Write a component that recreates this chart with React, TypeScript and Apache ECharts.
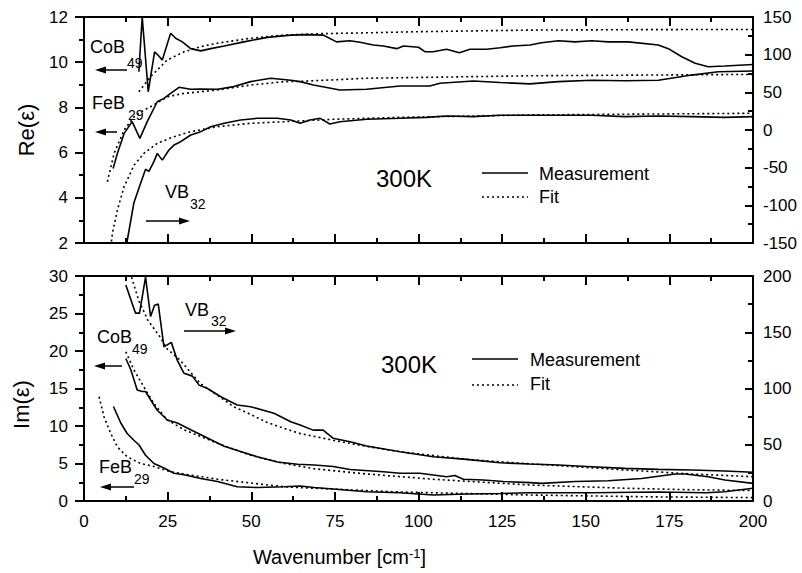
import React, { useEffect, useRef } from 'react';
import * as echarts from 'echarts';

const FONT = '"Liberation Sans", Arial, Helvetica, sans-serif';

// x range (wavenumber, cm-1) [min, max, interval]
const xRange = [0, 200, 25];
// axis ranges [min, max, interval]
const reLeftRange = [2, 12, 2];
const reRightRange = [-150, 150, 50];
const imLeftRange = [0, 30, 5];
const imRightRange = [0, 200, 50];

// ---- Re(eps) panel ----
const reCoB49Meas = [[16.4,9.58],[17.4,12.0],[19.2,8.69],[21.1,10.46],[22.1,10.32],[23.4,10.1],[25.9,11.28],[27.4,11.06],[29.4,10.9],[31.9,10.6],[34.9,10.5],[37.9,10.6],[41.9,10.72],[47.8,10.9],[54.8,11.1],[61.8,11.2],[66.8,11.22],[71.5,11.2],[75.5,10.9],[79.5,10.95],[82.5,10.88],[86.5,10.76],[89.5,10.72],[93.5,10.6],[95.5,10.72],[100,10.66],[102,10.46],[104.4,10.46],[108.4,10.57],[112.2,10.42],[115.4,10.57],[120.4,10.57],[124.4,10.64],[128.3,10.72],[133.3,10.76],[136.8,10.86],[141.8,10.95],[146.8,10.9],[151.8,10.95],[156.7,10.9],[162.7,10.9],[171.7,10.76],[174.7,10.6],[178.7,10.24],[182.7,9.95],[186.6,9.8],[191.6,9.83],[200,9.9]];
const reCoB49Fit = [[16.4,8.69],[19.9,9.36],[24.9,10.1],[29.9,10.46],[34.9,10.69],[39.9,10.84],[49.8,11.06],[59.8,11.2],[70,11.26],[84.5,11.3],[100,11.35],[133.3,11.42],[166,11.44],[200,11.45]];
const reFeB29Meas = [[8.7,5.3],[10,5.97],[12,6.85],[14.4,7.37],[16.7,6.63],[18.9,7.37],[21.9,8.25],[23.9,8.4],[25.9,8.62],[28.4,8.89],[31.9,8.8],[34.9,8.81],[39.9,8.8],[44.8,8.92],[49.8,9.14],[55.8,9.29],[61.8,9.2],[64.6,9.14],[68.6,8.99],[76.5,8.77],[84.5,8.8],[94.5,8.95],[103.4,8.95],[106.4,9.07],[116.4,9.17],[124.4,9.1],[133.3,9.04],[141.8,9.14],[151.8,9.2],[161.7,9.18],[171.7,9.2],[181.7,9.43],[189.6,9.58],[200,9.61]];
const reFeB29Fit = [[7,4.71],[9,5.97],[12,7.0],[15,7.59],[17.9,7.88],[19.9,8.03],[24.9,8.47],[29.9,8.62],[39.9,8.77],[49.8,8.99],[59.8,9.14],[64.6,9.15],[84.5,9.29],[133.3,9.4],[200,9.46]];
const reVB32Meas = [[12.8,-150],[14.9,-97],[16.9,-71],[18.4,-52],[19.4,-55],[20.9,-42],[21.9,-31],[23.4,-40],[25.4,-26.5],[26.9,-20],[28.9,-15.5],[31.9,-6.6],[34.9,-2.2],[37.9,4.4],[41.9,8.9],[46.8,13.3],[51.8,15.5],[57.8,15.5],[61.8,13.3],[64.6,9],[67.6,13.3],[70.6,15.5],[73.5,8],[76.5,11],[84.5,14.2],[94.5,15.5],[102.4,16.8],[108.4,18.6],[116.4,17.7],[124.4,19.5],[133.3,19.5],[141.8,19.5],[151.8,19.5],[161.7,17.7],[171.7,18.6],[181.7,17.7],[191.6,16.8],[200,17.7]];
const reVB32Fit = [[8.2,-148],[8.5,-137],[10,-106],[12,-75],[15,-46.5],[17.9,-31],[21.9,-17.7],[26.9,-8.9],[31.9,-2.2],[39.9,4.4],[49.8,8.9],[59.8,11],[74.5,14.2],[94.5,16.8],[133.3,20],[200,22.2]];

// ---- Im(eps) panel ----
const imVB32Meas = [[12.5,192],[15.4,167],[16.6,167],[18.4,199],[19.9,164],[21.1,174],[22.2,175],[23.9,137],[26.1,141],[27.9,125],[29.9,113.5],[32.4,111],[34.4,103],[36.9,100],[40.9,92.7],[45.8,85.3],[49.8,83.8],[56.8,78],[61.8,70.5],[64.6,67.6],[68.5,63],[71.5,63],[74.5,55.7],[79.5,52.7],[84.5,48.9],[94.5,43.8],[104.4,39.4],[114.4,37],[124.4,34],[133.3,32.9],[141.8,32],[151.8,30.5],[161.7,29],[171.7,28.1],[181.7,27.6],[191.6,26.7],[200,25.5]];
const imVB32Fit = [[14.2,199],[16.4,178],[17.7,170],[19,161],[22.7,146],[24.9,135],[28.7,125.3],[34.7,104.6],[39.9,94],[44.6,84],[49.8,77],[54.6,70],[59.8,64.5],[64.6,60],[74.5,54],[84.5,48.5],[94.5,43.8],[114.4,37],[133.3,33],[161.7,27.6],[181.7,24],[200,21.6]];
const imCoB49Meas = [[12.5,19.0],[14,17.5],[15.9,14.8],[17.4,14.6],[18.4,14.6],[19.9,13.5],[21.9,12.1],[24.9,10.8],[27.9,10.4],[31.9,9.5],[36.9,8.4],[41.9,7.3],[46.8,6.6],[51.8,5.9],[57.8,5.2],[63.8,4.9],[68.8,4.8],[74.5,4.6],[79.5,4.2],[89.5,3.9],[94.5,3.7],[100.4,3.7],[108.4,3.24],[110.9,3.4],[113.4,2.9],[119.4,2.8],[125.4,2.6],[133.3,2.45],[136.8,2.35],[146.8,2.6],[156.7,2.7],[166.7,3.0],[176.7,3.6],[179.7,3.6],[186.6,3.24],[191.6,2.8],[200,2.35]];
const imCoB49Fit = [[12.5,19.9],[14.9,17.5],[17.9,15.2],[20.9,13],[24.9,10.8],[29.9,9.5],[39.9,7.7],[49.8,6.1],[59.8,5.0],[68.8,4.3],[84.5,3.6],[104.4,2.9],[133.3,2.13],[161.7,1.7],[181.7,1.5],[200,1.4]];
const imFeB29Meas = [[8.8,12.6],[11,10.4],[12.9,9.0],[14.9,8.1],[16.4,7.5],[18.4,6.1],[20.9,5.0],[23.9,4.4],[26.9,3.7],[29.9,3.5],[34.9,3.0],[39.9,2.6],[45.8,1.9],[51.8,1.8],[59.8,1.9],[64.6,2.0],[68.8,1.8],[74.5,1.6],[84.5,1.24],[94.5,1.1],[104.4,0.8],[114.4,0.93],[124.4,1.0],[133.3,1.1],[151.8,1.1],[171.7,1.2],[186,1.1],[191.6,1.24],[200,1.7]];
const imFeB29Fit = [[4.5,13.9],[6,11.2],[8,9.0],[10,7.2],[12.9,5.9],[16.9,5.0],[20.9,4.6],[25.9,3.9],[29.9,3.6],[39.9,2.9],[49.8,2.4],[59.8,1.9],[68.8,1.7],[94.5,1.2],[133.3,0.8],[170,0.55],[200,0.45]];

const legendLabels = ['Measurement', 'Fit'];
const panelTitle = '300K';

const BLACK = '#000000';

function meas(name: string, data: number[][], xi: number, yi: number) {
  return {
    type: 'line', name, data, xAxisIndex: xi, yAxisIndex: yi,
    symbol: 'none', silent: true, clip: true, z: 2,
    lineStyle: { color: BLACK, width: 1.6 },
  };
}
function fit(name: string, data: number[][], xi: number, yi: number) {
  return {
    type: 'line', name, data, xAxisIndex: xi, yAxisIndex: yi,
    symbol: 'none', silent: true, clip: true, z: 2,
    lineStyle: { color: BLACK, width: 1.6, type: [2, 3] },
  };
}

function xAx(grid: number, pos: 'top' | 'bottom', labels: boolean, extra: any = {}) {
  return {
    type: 'value', gridIndex: grid, position: pos,
    min: xRange[0], max: xRange[1], interval: xRange[2],
    axisLine: { show: true, onZero: false, lineStyle: { color: BLACK, width: 2 } },
    axisTick: { show: true, inside: true, length: 9, lineStyle: { color: BLACK, width: 2 } },
    minorTick: { show: true, splitNumber: 2, length: 5, lineStyle: { color: BLACK, width: 2 } },
    splitLine: { show: false },
    minorSplitLine: { show: false },
    axisLabel: { show: labels, color: BLACK, fontSize: 17, fontFamily: FONT, margin: 12 },
    ...extra,
  };
}
function yAx(grid: number, pos: 'left' | 'right', r: number[], extra: any = {}) {
  const left = pos === 'left';
  return {
    type: 'value', gridIndex: grid, position: pos,
    min: r[0], max: r[1], interval: r[2],
    axisLine: { show: true, onZero: false, lineStyle: { color: BLACK, width: 2 } },
    axisTick: { show: true, inside: !left, length: left ? 9 : 8, lineStyle: { color: BLACK, width: 2 } },
    minorTick: { show: true, splitNumber: 2, length: 5, lineStyle: { color: BLACK, width: 2 } },
    splitLine: { show: false },
    minorSplitLine: { show: false },
    axisLabel: { show: true, color: BLACK, fontSize: 17, fontFamily: FONT, margin: left ? 16 : 10 },
    ...extra,
  };
}

function txt(text: string, x: number, y: number, size: number, align = 'left') {
  return {
    type: 'text', x, y, silent: true,
    style: { text, fontSize: size, fontFamily: FONT, fill: BLACK, align, verticalAlign: 'middle' },
  };
}
function arrow(x1: number, x2: number, y: number) {
  const d = x2 > x1 ? 1 : -1;
  return [
    { type: 'line', silent: true, shape: { x1, y1: y, x2: x2 - d * 8, y2: y }, style: { stroke: BLACK, lineWidth: 1.5 } },
    { type: 'polygon', silent: true, shape: { points: [[x2, y], [x2 - d * 11, y - 3.5], [x2 - d * 11, y + 3.5]] }, style: { fill: BLACK } },
  ];
}
function legendLine(x1: number, x2: number, y: number, dotted: boolean) {
  return {
    type: 'line', silent: true, shape: { x1, y1: y, x2, y2: y },
    style: { stroke: BLACK, lineWidth: 1.5, lineDash: dotted ? [2, 3] : null },
  };
}

export default function App() {
  const ref = useRef<HTMLDivElement>(null);
  useEffect(() => {
    if (!ref.current) return;
    const chart = echarts.init(ref.current, null, { renderer: 'svg' });
    const option: any = {
      animation: false,
      backgroundColor: '#fff',
      textStyle: { fontFamily: FONT, color: BLACK },
      grid: [
        { left: 84, top: 17, width: 669, height: 226 },
        { left: 84, top: 276, width: 669, height: 225 },
      ],
      xAxis: [
        xAx(0, 'bottom', false),
        xAx(0, 'top', false),
        xAx(1, 'bottom', true, {
          name: '{a|Wavenumber [cm}{s|-1}{a|]}',
          nameLocation: 'middle',
          nameGap: 46,
          nameTextStyle: {
            padding: [0, 158, 0, 0],
            rich: {
              a: { fontSize: 20, fontFamily: FONT, color: BLACK },
              s: { fontSize: 13, fontFamily: FONT, color: BLACK, verticalAlign: 'top' },
            },
          },
        }),
        xAx(1, 'top', false),
      ],
      yAxis: [
        yAx(0, 'left', reLeftRange, {
          name: 'Re(ε)', nameLocation: 'middle', nameGap: 47,
          nameTextStyle: { fontSize: 22, fontFamily: FONT, color: BLACK },
        }),
        yAx(0, 'right', reRightRange),
        yAx(1, 'left', imLeftRange, {
          name: 'Im(ε)', nameLocation: 'middle', nameGap: 52,
          nameTextStyle: { fontSize: 22, fontFamily: FONT, color: BLACK, padding: [0, 32, 0, 0] },
        }),
        yAx(1, 'right', imRightRange),
      ],
      series: [
        meas('CoB49 Re measurement', reCoB49Meas, 0, 0),
        fit('CoB49 Re fit', reCoB49Fit, 0, 0),
        meas('FeB29 Re measurement', reFeB29Meas, 0, 0),
        fit('FeB29 Re fit', reFeB29Fit, 0, 0),
        meas('VB32 Re measurement', reVB32Meas, 0, 1),
        fit('VB32 Re fit', reVB32Fit, 0, 1),
        meas('VB32 Im measurement', imVB32Meas, 2, 3),
        fit('VB32 Im fit', imVB32Fit, 2, 3),
        meas('CoB49 Im measurement', imCoB49Meas, 2, 2),
        fit('CoB49 Im fit', imCoB49Fit, 2, 2),
        meas('FeB29 Im measurement', imFeB29Meas, 2, 2),
        fit('FeB29 Im fit', imFeB29Fit, 2, 2),
      ],
      graphic: [
        // top panel annotations
        txt('CoB', 90, 47, 18), txt('49', 127, 63, 14), ...arrow(127, 95, 70),
        txt('FeB', 92, 103, 18), txt('29', 128, 115, 14), ...arrow(117, 95, 132),
        txt('VB', 165, 192, 18), txt('32', 190, 204, 14), ...arrow(146, 190, 221),
        txt(panelTitle, 376, 178, 24),
        legendLine(482, 528, 173, false), txt(legendLabels[0], 539, 174, 18),
        legendLine(482, 528, 197, true), txt(legendLabels[1], 539, 197, 18),
        // bottom panel annotations
        txt('VB', 185, 310, 18), txt('32', 211, 321, 14), ...arrow(184, 236, 331),
        txt('CoB', 97, 337, 18), txt('49', 132, 349, 14), ...arrow(122, 94, 366),
        txt('FeB', 99, 467, 18), txt('29', 134, 479, 14), ...arrow(134, 100, 487),
        txt(panelTitle, 381, 364, 24),
        legendLine(472, 518, 359, false), txt(legendLabels[0], 530, 360, 18),
        legendLine(472, 518, 385, true), txt(legendLabels[1], 530, 384, 18),
      ],
    };
    chart.setOption(option);
    return () => chart.dispose();
  }, []);
  return (
    <div
      ref={ref}
      style={{ position: 'absolute', left: 0, top: 0, width: 802, height: 573, background: '#fff' }}
    />
  );
}
